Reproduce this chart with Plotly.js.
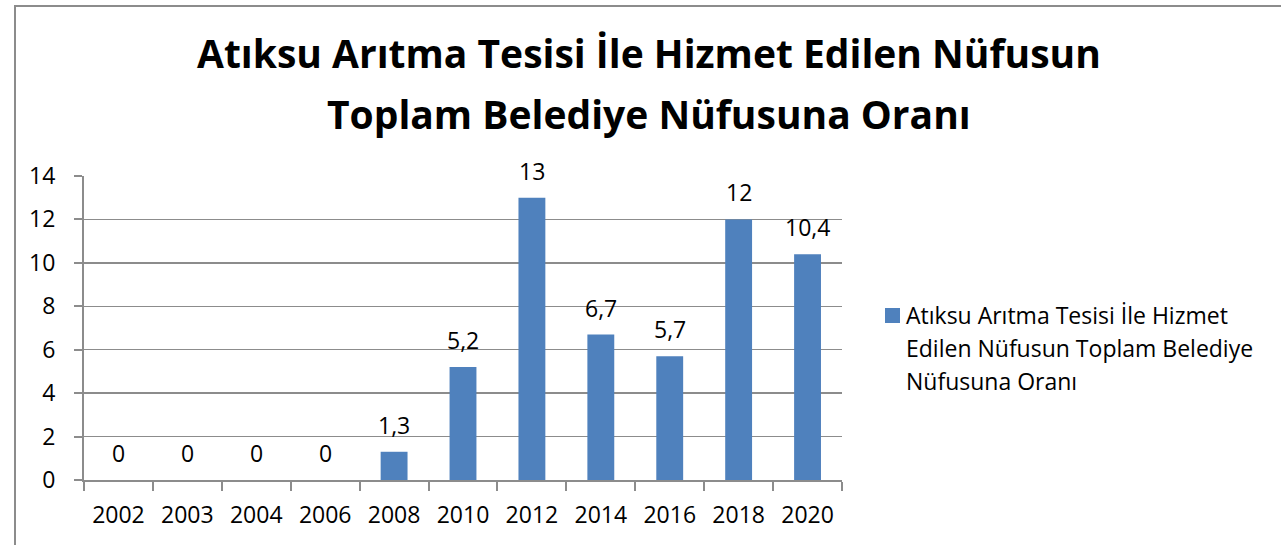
<!DOCTYPE html>
<html>
<head>
<meta charset="utf-8">
<script src="https://cdn.plot.ly/plotly-3.0.1.min.js"></script>
<style>
  html, body { margin: 0; padding: 0; background: #fff; }
  #wrap { position: relative; width: 1281px; height: 545px; overflow: hidden; }
  #chart { width: 1281px; height: 545px; }
  #frame { position: absolute; left: 14px; top: 5px; width: 1300px; height: 600px;
           border-top: 2px solid #8c8c8c; border-left: 2px solid #8c8c8c; pointer-events: none; }
</style>
</head>
<body>
<div id="wrap">
  <div id="chart"></div>
  <div id="frame"></div>
</div>
<script>
const years = ['2002', '2003', '2004', '2006', '2008', '2010', '2012', '2014', '2016', '2018', '2020'];
const ratios = [0, 0, 0, 0, 1.3, 5.2, 13, 6.7, 5.7, 12, 10.4];
const seriesName = 'Atıksu Arıtma Tesisi İle Hizmet Edilen Nüfusun Toplam Belediye Nüfusuna Oranı';
const titleLines = ['Atıksu Arıtma Tesisi İle Hizmet Edilen Nüfusun', 'Toplam Belediye Nüfusuna Oranı'];
const legendLines = ['Atıksu Arıtma Tesisi İle Hizmet', 'Edilen Nüfusun Toplam Belediye', 'Nüfusuna Oranı'];
const yTicks = [0, 2, 4, 6, 8, 10, 12, 14];

const barColor = '#4F81BD';
const gridColor = '#8c8c8c';
const FONT = '"Open Sans", Lato, sans-serif';

const trace = {
  type: 'bar',
  x: years,
  y: ratios,
  name: seriesName,
  marker: { color: barColor, line: { width: 0 } },
  showlegend: false,
  hoverinfo: 'x+y'
};

// category index i == position of years[i] on the category axis
const labelAnns = years.map((yr, i) => ({
  x: i, y: ratios[i], xref: 'x', yref: 'y',
  text: String(ratios[i]).replace('.', ','),
  showarrow: false, yanchor: 'middle', xanchor: 'center', yshift: 27,
  font: { family: FONT, size: 23, color: '#000' }
}));

const titleY = [1.405, 1.207];
const titleAnns = titleLines.map((t, i) => ({
  xref: 'paper', yref: 'paper', x: 0.745, y: titleY[i],
  text: '<b>' + t + '</b>', showarrow: false, xanchor: 'center', yanchor: 'middle',
  font: { family: FONT, size: 39, color: '#000' }
}));

const legX = (904 - 84) / 758;
const legendY = [315, 348, 381].map(p => (480 - p) / 304);
const legendAnns = legendLines.map((t, i) => ({
  xref: 'paper', yref: 'paper', x: legX, y: legendY[i],
  text: t, showarrow: false, xanchor: 'left', yanchor: 'middle',
  font: { family: FONT, size: 23, color: '#000' }
}));

const legendSquare = {
  type: 'rect', xref: 'paper', yref: 'paper',
  x0: (885 - 84) / 758, x1: (900 - 84) / 758,
  y0: (480 - 323) / 304, y1: (480 - 308) / 304,
  fillcolor: barColor, line: { width: 0 }
};

const layout = {
  width: 1281, height: 545,
  margin: { l: 84, r: 439, t: 176, b: 65 },
  paper_bgcolor: '#fff', plot_bgcolor: '#fff',
  font: { family: FONT, size: 23, color: '#000' },
  bargap: 0.61,
  xaxis: {
    type: 'category',
    range: [-0.5, years.length - 0.5],
    showline: true, linecolor: gridColor, linewidth: 2,
    ticks: 'outside', tickson: 'boundaries', ticklen: 9, tickcolor: gridColor, tickwidth: 2,
    ticklabelstandoff: 13,
    tickfont: { family: FONT, size: 23, color: '#000' },
    showgrid: false, zeroline: false, fixedrange: true
  },
  yaxis: {
    range: [0, 14],
    tickvals: yTicks,
    showline: true, linecolor: gridColor, linewidth: 2,
    ticks: 'outside', ticklen: 8, tickcolor: gridColor, tickwidth: 2,
    ticklabelstandoff: 14,
    tickfont: { family: FONT, size: 23, color: '#000' },
    showgrid: true, gridcolor: gridColor, gridwidth: 1.5,
    zeroline: false, fixedrange: true
  },
  annotations: [...labelAnns, ...titleAnns, ...legendAnns],
  shapes: [legendSquare]
};

Plotly.newPlot('chart', [trace], layout, { displayModeBar: false, staticPlot: true });
</script>
</body>
</html>
